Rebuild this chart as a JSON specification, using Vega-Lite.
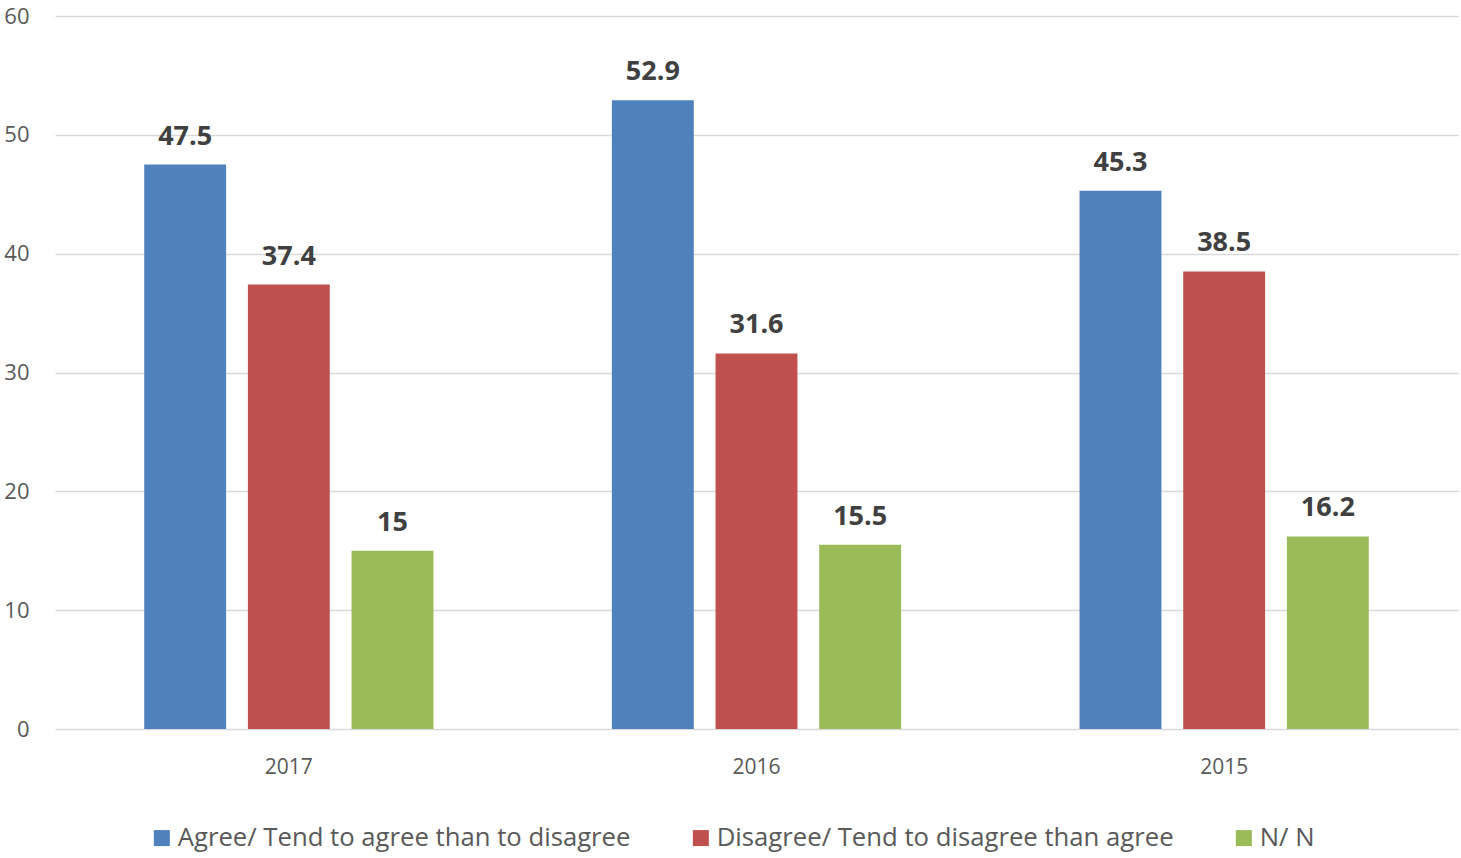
{
  "$schema": "https://vega.github.io/schema/vega-lite/v6.json",
  "autosize": "none",
  "width": 1403,
  "height": 713,
  "padding": {"left": 55, "top": 16, "right": 3, "bottom": 129},
  "background": "white",
  "config": {
    "font": "Open Sans",
    "view": {"stroke": null}
  },
  "data": {
    "values": [
      {"year": "2017", "series": "Agree/ Tend to agree than to disagree", "value": 47.5},
      {"year": "2017", "series": "Disagree/ Tend to disagree than agree", "value": 37.4},
      {"year": "2017", "series": "N/ N", "value": 15},
      {"year": "2016", "series": "Agree/ Tend to agree than to disagree", "value": 52.9},
      {"year": "2016", "series": "Disagree/ Tend to disagree than agree", "value": 31.6},
      {"year": "2016", "series": "N/ N", "value": 15.5},
      {"year": "2015", "series": "Agree/ Tend to agree than to disagree", "value": 45.3},
      {"year": "2015", "series": "Disagree/ Tend to disagree than agree", "value": 38.5},
      {"year": "2015", "series": "N/ N", "value": 16.2}
    ]
  },
  "encoding": {
    "x": {
      "field": "year", "type": "nominal", "sort": ["2017", "2016", "2015"],
      "scale": {"paddingInner": 0.335, "paddingOuter": 0.1675},
      "axis": {"title": null, "domain": false, "ticks": false, "labelAngle": 0, "labelFontSize": 21, "labelColor": "#595959", "labelPadding": 27, "grid": false}
    },
    "xOffset": {
      "field": "series", "type": "nominal",
      "sort": ["Agree/ Tend to agree than to disagree", "Disagree/ Tend to disagree than agree", "N/ N"],
      "scale": {"paddingInner": 0.21, "paddingOuter": 0.105}
    },
    "y": {
      "field": "value", "type": "quantitative",
      "scale": {"domain": [0, 60], "nice": false},
      "axis": {"title": null, "domain": false, "ticks": false, "values": [0, 10, 20, 30, 40, 50, 60], "labelFontSize": 22, "labelColor": "#595959", "labelPadding": 26, "gridColor": "#d9d9d9", "gridWidth": 1.5}
    }
  },
  "layer": [
    {
      "mark": {"type": "bar"},
      "encoding": {
        "color": {
          "field": "series", "type": "nominal",
          "scale": {
            "domain": ["Agree/ Tend to agree than to disagree", "Disagree/ Tend to disagree than agree", "N/ N"],
            "range": ["#4F81BD", "#C0504D", "#9BBB59"]
          },
          "legend": {
            "title": null, "orient": "none", "direction": "horizontal",
            "legendX": 94, "legendY": 809,
            "symbolType": "square", "symbolSize": 256, "symbolStrokeWidth": 0,
            "labelFontSize": 25.7, "labelColor": "#595959", "labelLimit": 1000,
            "labelOffset": 3, "columnPadding": 57
          }
        }
      }
    },
    {
      "mark": {"type": "text", "baseline": "bottom", "dy": -14, "fontSize": 27, "fontWeight": "bold", "color": "#404040"},
      "encoding": {
        "text": {"field": "value", "type": "quantitative"}
      }
    }
  ]
}
